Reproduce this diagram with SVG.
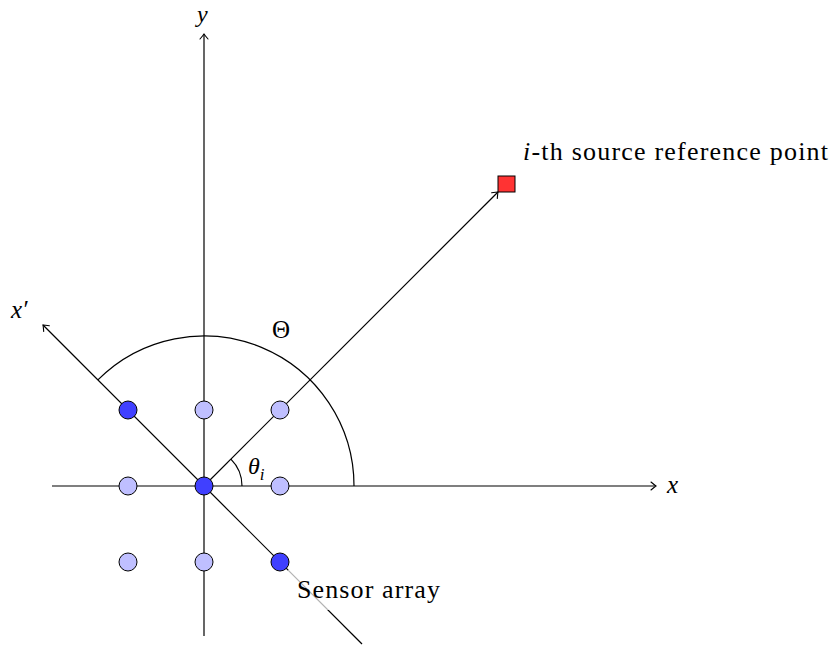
<svg xmlns="http://www.w3.org/2000/svg" width="833" height="648" viewBox="0 0 833 648">
<defs>
<marker id="arr" viewBox="-6 -5 8 10" markerWidth="8" markerHeight="10" refX="0" refY="0" orient="auto" markerUnits="userSpaceOnUse">
<path d="M -5,-4 Q -1.5,-1 0,0 Q -1.5,1 -5,4" fill="none" stroke="#000" stroke-width="1.1" stroke-linecap="round"/>
</marker>
</defs>
<style>
.ln{stroke:#000;stroke-width:1.2;fill:none}
.lt{fill:#bfbfff;stroke:#000;stroke-width:1}
.dk{fill:#4040ff;stroke:#000;stroke-width:1}
text{font-family:'Liberation Serif','DejaVu Serif',serif;fill:#000}
.it{font-style:italic}
</style>
<rect width="833" height="648" fill="#fff"/>
<g id="connectors">
<line class="ln" x1="52" y1="486" x2="656" y2="486" marker-end="url(#arr)"/>
<line class="ln" x1="204" y1="636" x2="204" y2="34" marker-end="url(#arr)"/>
<line class="ln" x1="362" y1="644" x2="43" y2="325" marker-end="url(#arr)"/>
<line class="ln" x1="204" y1="486" x2="498" y2="192" marker-end="url(#arr)"/>
<path class="ln" d="M 354,486 A 150,150 0 0 0 97.9,379.9"/>
<path class="ln" d="M 242,486 A 38,38 0 0 0 230.9,459.1"/>
</g>
<g id="sensor-array-label">
<rect x="288" y="570" width="156" height="40" fill="#fff" opacity="0.7"/>
<text x="297" y="598" font-family="Liberation Serif, serif" font-size="26" textLength="143">Sensor array</text>
</g>
<g id="sensors">
<circle class="dk" cx="128" cy="410" r="9"/>
<circle class="lt" cx="204" cy="410" r="9"/>
<circle class="lt" cx="280" cy="410" r="9"/>
<circle class="lt" cx="128" cy="486" r="9"/>
<circle class="dk" cx="204" cy="486" r="9"/>
<circle class="lt" cx="280" cy="486" r="9"/>
<circle class="lt" cx="128" cy="562" r="9"/>
<circle class="lt" cx="204" cy="562" r="9"/>
<circle class="dk" cx="280" cy="562" r="9"/>
</g>
<g id="source">
<rect x="498" y="176" width="17" height="16" fill="#ff3333" stroke="#000" stroke-width="1"/>
<text x="523" y="160" font-family="Liberation Serif, serif" font-size="26" textLength="305"><tspan class="it">i</tspan>-th source reference point</text>
</g>
<g id="labels">
<text class="it" x="197" y="22" font-family="Liberation Serif, serif" font-size="24">y</text>
<text class="it" x="667" y="493" font-family="Liberation Serif, serif" font-size="25">x</text>
<text class="it" x="11" y="318" font-family="Liberation Serif, serif" font-size="25">x′</text>
<text x="272" y="338" font-family="Liberation Serif, serif" font-size="25">Θ</text>
<text class="it" x="248" y="474" font-family="Liberation Serif, serif" font-size="24">θ<tspan font-size="17" dy="6">i</tspan></text>
</g>
</svg>
